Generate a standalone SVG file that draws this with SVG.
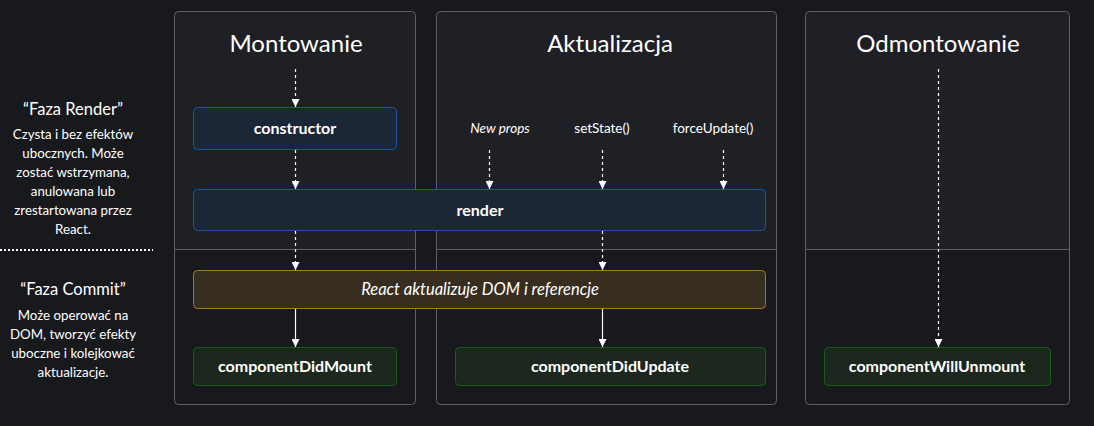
<svg xmlns="http://www.w3.org/2000/svg" width="1094" height="426" viewBox="0 0 1094 426">
<defs>
<style>
.bg{fill:#18191d}
.panel{fill:none;stroke:#5f6064;stroke-width:1}
.upper{fill:#1f2025}
.sep{stroke:#5f6064;stroke-width:1}
.title{font-family:"Lato","Noto Sans",sans-serif;font-size:24px;fill:#ffffff;text-anchor:middle}
.note{font-family:"Lato","Noto Sans",sans-serif;font-size:13.3px;fill:#ffffff;text-anchor:middle}
.noteh{font-family:"Lato","Noto Sans",sans-serif;font-size:16.5px;fill:#ffffff;text-anchor:middle}
.lbl{font-family:"Lato","Noto Sans",sans-serif;font-size:13.5px;fill:#ffffff;text-anchor:middle}
.ital{font-style:italic}
.big{font-size:16.5px}
.bold{font-family:"Lato","Noto Sans",sans-serif;font-size:16px;font-weight:bold;fill:#ffffff;text-anchor:middle}
.blue{fill:#1b2637;stroke:#1e52a3;stroke-width:1}
.yellow{fill:#372e1f;stroke:#a97a10;stroke-width:1}
.green{fill:#1c271e;stroke:#1a5a1a;stroke-width:1}
.dash{stroke:#ffffff;stroke-width:1.2;stroke-dasharray:3 3;fill:none}
.solid{stroke:#ffffff;stroke-width:1.2;fill:none}
</style>
<marker id="arr" viewBox="0 0 10 10" refX="10" refY="5" markerWidth="8" markerHeight="8" markerUnits="userSpaceOnUse" orient="auto">
<path d="M0,0 L10,5 L0,10 z" fill="#ffffff"/>
</marker>
</defs>
<rect class="bg" x="0" y="0" width="1094" height="426"/>

<g id="panels">
<g id="panel-mount">
<path class="upper" d="M178,11.5 H411.5 Q415.5,11.5 415.5,15.5 V249.5 H174.5 V15.5 Q174.5,11.5 178.5,11.5 z"/>
<rect class="panel" x="174.5" y="11.5" width="241" height="393" rx="4"/>
<line class="sep" x1="174.5" y1="249.5" x2="415.5" y2="249.5"/>
<text class="title" x="296" y="52">Montowanie</text>
</g>
<g id="panel-update">
<path class="upper" d="M440.5,11.5 H772.5 Q776.5,11.5 776.5,15.5 V249.5 H436.5 V15.5 Q436.5,11.5 440.5,11.5 z"/>
<rect class="panel" x="436.5" y="11.5" width="340" height="393" rx="4"/>
<line class="sep" x1="436.5" y1="249.5" x2="776.5" y2="249.5"/>
<text class="title" x="610" y="52">Aktualizacja</text>
</g>
<g id="panel-unmount">
<path class="upper" d="M809.5,11.5 H1065.5 Q1069.5,11.5 1069.5,15.5 V249.5 H805.5 V15.5 Q805.5,11.5 809.5,11.5 z"/>
<rect class="panel" x="805.5" y="11.5" width="264" height="393" rx="4"/>
<line class="sep" x1="805.5" y1="249.5" x2="1069.5" y2="249.5"/>
<text class="title" x="938" y="52">Odmontowanie</text>
</g>
</g>

<g id="phase-notes">
<text class="noteh" x="73" y="115">“Faza Render”</text>
<text class="note" x="73" y="139">Czysta i bez efektów</text>
<text class="note" x="73" y="158">ubocznych. Może</text>
<text class="note" x="73" y="177">zostać wstrzymana,</text>
<text class="note" x="73" y="196">anulowana lub</text>
<text class="note" x="73" y="215">zrestartowana przez</text>
<text class="note" x="73" y="234">React.</text>
<line x1="0" y1="250" x2="153" y2="250" stroke="#ffffff" stroke-width="2" stroke-dasharray="2 2"/>
<text class="noteh" x="73" y="295">“Faza Commit”</text>
<text class="note" x="73" y="320">Może operować na</text>
<text class="note" x="73" y="339">DOM, tworzyć efekty</text>
<text class="note" x="73" y="358">uboczne i kolejkować</text>
<text class="note" x="73" y="377">aktualizacje.</text>
</g>

<g id="triggers">
<text class="lbl ital" x="500" y="133">New props</text>
<text class="lbl" x="602" y="133">setState()</text>
<text class="lbl" x="713" y="133">forceUpdate()</text>
</g>

<g id="connectors">
<line class="dash" x1="295.5" y1="69" x2="295.5" y2="107" marker-end="url(#arr)"/>
<line class="dash" x1="295.5" y1="150" x2="295.5" y2="189" marker-end="url(#arr)"/>
<line class="dash" x1="295.5" y1="231" x2="295.5" y2="270" marker-end="url(#arr)"/>
<line class="solid" x1="295.5" y1="309" x2="295.5" y2="347" marker-end="url(#arr)"/>
<line class="dash" x1="489.5" y1="150" x2="489.5" y2="189" marker-end="url(#arr)"/>
<line class="dash" x1="602.5" y1="150" x2="602.5" y2="189" marker-end="url(#arr)"/>
<line class="dash" x1="723.5" y1="150" x2="723.5" y2="189" marker-end="url(#arr)"/>
<line class="dash" x1="602.5" y1="231" x2="602.5" y2="270" marker-end="url(#arr)"/>
<line class="solid" x1="602.5" y1="309" x2="602.5" y2="347" marker-end="url(#arr)"/>
<line class="dash" x1="938.5" y1="69" x2="938.5" y2="347" marker-end="url(#arr)"/>
</g>

<g id="constructor">
<rect class="blue" x="193.5" y="107.5" width="203" height="42" rx="4"/>
<text class="bold" x="295" y="134">constructor</text>
</g>
<g id="render">
<rect class="blue" x="193.5" y="189.5" width="572" height="41" rx="4"/>
<text class="bold" x="480" y="216">render</text>
</g>
<g id="react-updates-dom">
<rect class="yellow" x="193.5" y="270.5" width="572" height="38" rx="4"/>
<text class="lbl ital big" x="480" y="295">React aktualizuje DOM i referencje</text>
</g>
<g id="componentDidMount">
<rect class="green" x="193.5" y="347.5" width="203" height="38" rx="4"/>
<text class="bold" x="295" y="372">componentDidMount</text>
</g>
<g id="componentDidUpdate">
<rect class="green" x="455.5" y="347.5" width="310" height="38" rx="4"/>
<text class="bold" x="610" y="372">componentDidUpdate</text>
</g>
<g id="componentWillUnmount">
<rect class="green" x="824.5" y="347.5" width="226" height="38" rx="4"/>
<text class="bold" x="937" y="372">componentWillUnmount</text>
</g>
</svg>
